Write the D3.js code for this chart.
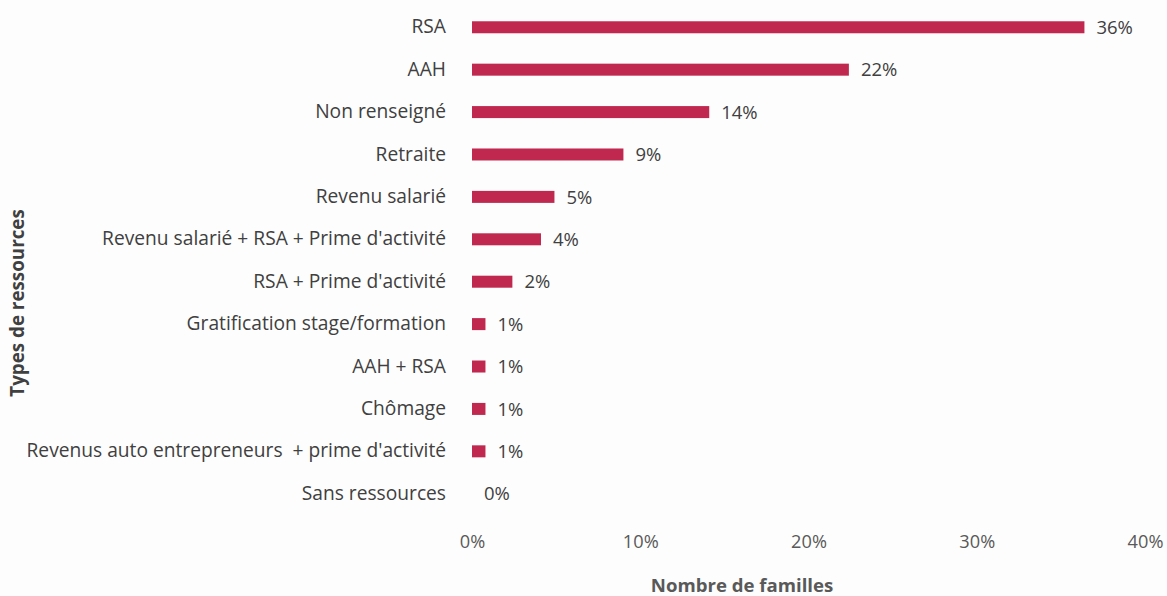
<!DOCTYPE html>
<html>
<head>
<meta charset="utf-8">
<script src="https://cdn.jsdelivr.net/npm/d3@7"></script>
<style>
  body { margin: 0; background: #fdfdfd; }
  svg { display: block; }
  text { font-family: "Open Sans", sans-serif; }
</style>
</head>
<body>
<div id="chart"></div>
<script>
// categories, top to bottom
const categories = [
  'RSA',
  'AAH',
  'Non renseigné',
  'Retraite',
  'Revenu salarié',
  'Revenu salarié + RSA + Prime d\'activité',
  'RSA + Prime d\'activité',
  'Gratification stage/formation',
  'AAH + RSA',
  'Chômage',
  'Revenus auto entrepreneurs  + prime d\'activité',
  'Sans ressources'
]
// share of families (fraction)
const values = [0.364, 0.224, 0.141, 0.090, 0.049, 0.041, 0.024, 0.008, 0.008, 0.008, 0.008, 0]
const xTicks = [0, 0.1, 0.2, 0.3, 0.4]

const width = 1167
const height = 596
const margin = {left: 472, right: 22, top: 6, bottom: 81}

const svg = d3.select('#chart').append('svg')
    .attr('width', width)
    .attr('height', height)

const x = d3.scaleLinear()
    .domain([0, 0.4])
    .range([margin.left, width - margin.right])

const y = d3.scaleBand()
    .domain(categories)
    .range([margin.top, height - margin.bottom])
    .paddingInner(0.717)
    .paddingOuter(0.36)

const pct = d3.format('.0%')

// bars
svg.append('g').selectAll('rect')
    .data(values)
    .enter().append('rect')
      .attr('x', x(0))
      .attr('y', (d, i) => y(categories[i]))
      .attr('width', (d) => x(d) - x(0))
      .attr('height', y.bandwidth())
      .attr('fill', '#c0284f')

// value labels
svg.append('g').selectAll('text')
    .data(values)
    .enter().append('text')
      .attr('x', (d) => x(d) + 12)
      .attr('y', (d, i) => y(categories[i]) + y.bandwidth() / 2)
      .attr('dy', '0.36em')
      .attr('font-size', 18.5)
      .attr('fill', '#404040')
      .text((d) => pct(d))

// category axis (labels only)
const yAxis = svg.append('g')
    .attr('transform', 'translate(' + (margin.left - 26) + ',0)')
    .call(d3.axisLeft(y).tickSize(0).tickPadding(0))
yAxis.select('.domain').remove()
yAxis.selectAll('text')
    .attr('font-family', '"Open Sans", sans-serif')
    .attr('font-size', 19.2)
    .attr('fill', '#404040')
    .style('white-space', 'pre')

// value axis (labels only)
const xAxis = svg.append('g')
    .attr('transform', 'translate(0,' + 535 + ')')
    .call(d3.axisBottom(x).tickValues(xTicks).tickFormat(pct).tickSize(0).tickPadding(0))
xAxis.select('.domain').remove()
xAxis.selectAll('text')
    .attr('font-family', '"Open Sans", sans-serif')
    .attr('font-size', 18.2)
    .attr('fill', '#595959')

// axis titles
svg.append('text')
    .attr('x', 742)
    .attr('y', 592)
    .attr('text-anchor', 'middle')
    .attr('font-size', 18.6)
    .attr('font-weight', 'bold')
    .attr('fill', '#595959')
    .text('Nombre de familles')

svg.append('text')
    .attr('transform', 'translate(24,' + 303 + ')rotate(-90)')
    .attr('text-anchor', 'middle')
    .attr('font-size', 18.8)
    .attr('font-weight', 'bold')
    .attr('fill', '#404040')
    .text('Types de ressources')
</script>
</body>
</html>
